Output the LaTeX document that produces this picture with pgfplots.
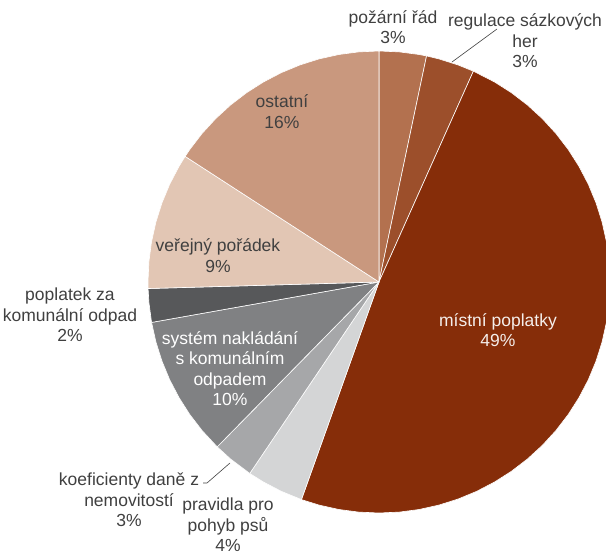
\documentclass[border=0pt]{standalone}
\usepackage{pgfplots}
\pgfplotsset{compat=1.18}
\usepgfplotslibrary{polar}
\usepackage{fontspec}
\setmainfont{Liberation Sans}
\definecolor{cA}{HTML}{B3714F}
\definecolor{cB}{HTML}{9C4F2B}
\definecolor{cC}{HTML}{862D09}
\definecolor{cD}{HTML}{D4D5D6}
\definecolor{cE}{HTML}{A6A7A9}
\definecolor{cF}{HTML}{808183}
\definecolor{cG}{HTML}{57585A}
\definecolor{cH}{HTML}{E2C6B4}
\definecolor{cI}{HTML}{C9987E}
\definecolor{txt}{HTML}{404040}
\begin{document}
\begin{tikzpicture}[x=1pt,y=1pt]
\useasboundingbox (0,0) rectangle (606,554);
\begin{polaraxis}[
  hide axis, scale only axis, width=462pt, height=462pt,
  xmin=0, xmax=360, ymin=0, ymax=1,
  anchor=origin, at={(379pt,272pt)}, clip=false,
  every axis plot/.append style={draw=white, line width=0.6pt, line join=round}
]
% požární řád 3.3 %
\addplot[fill=cA] coordinates {(0,0) (90,1) (85,1) (80,1) (78.12,1)} -- cycle;
% regulace sázkových her 3.4 %
\addplot[fill=cB] coordinates {(0,0) (78.12,1) (75,1) (70,1) (65.88,1)} -- cycle;
% místní poplatky 48.75 %
\addplot[fill=cC] coordinates {(0,0) (65.88,1) (60,1) (55,1) (50,1) (45,1) (40,1) (35,1) (30,1) (25,1) (20,1) (15,1) (10,1) (5,1) (0,1) (-5,1) (-10,1) (-15,1) (-20,1) (-25,1) (-30,1) (-35,1) (-40,1) (-45,1) (-50,1) (-55,1) (-60,1) (-65,1) (-70,1) (-75,1) (-80,1) (-85,1) (-90,1) (-95,1) (-100,1) (-105,1) (-109.62,1)} -- cycle;
% pravidla pro pohyb psů 4.0 %
\addplot[fill=cD] coordinates {(0,0) (-109.62,1) (-115,1) (-120,1) (-124.02,1)} -- cycle;
% koeficienty daně z nemovitostí 2.9 %
\addplot[fill=cE] coordinates {(0,0) (-124.02,1) (-130,1) (-134.46,1)} -- cycle;
% systém nakládání s komunálním odpadem 9.85 %
\addplot[fill=cF] coordinates {(0,0) (-134.46,1) (-140,1) (-145,1) (-150,1) (-155,1) (-160,1) (-165,1) (-169.92,1)} -- cycle;
% poplatek za komunální odpad 2.35 %
\addplot[fill=cG] coordinates {(0,0) (-169.92,1) (-175,1) (-178.38,1)} -- cycle;
% veřejný pořádek 9.6 %
\addplot[fill=cH] coordinates {(0,0) (-178.38,1) (-180,1) (-185,1) (-190,1) (-195,1) (-200,1) (-205,1) (-210,1) (-212.94,1)} -- cycle;
% ostatní 15.85 %
\addplot[fill=cI] coordinates {(0,0) (-212.94,1) (-215,1) (-220,1) (-225,1) (-230,1) (-235,1) (-240,1) (-245,1) (-250,1) (-255,1) (-260,1) (-265,1) (-270,1)} -- cycle;
\end{polaraxis}
\begin{scope}[every node/.style={align=center, font=\fontsize{17.5}{20.5}\selectfont, text=txt, inner sep=0pt}]
\node at (393,527) {požární řád\\3\%};
\node at (525,513) {regulace sázkových\\her\\3\%};
\node at (282,442.5) {ostatní\\16\%};
\node at (218,298.5) {veřejný pořádek\\9\%};
\node[text=white!92!cC] at (498,224) {místní poplatky\\49\%};
\node[text=white] at (230,185.5) {systém nakládání\\s komunálním\\odpadem\\10\%};
\node at (70,239) {poplatek za\\komunální odpad\\2\%};
\node at (129,54) {koeficienty daně z\\nemovitostí\\3\%};
\node at (228,29) {pravidla pro\\pohyb psů\\4\%};
\end{scope}
\draw[txt, line width=0.6pt] (497,525) -- (452,492);
\draw[txt, line width=0.6pt] (203,71) -- (207,71) -- (230,91);
\end{tikzpicture}
\end{document}
